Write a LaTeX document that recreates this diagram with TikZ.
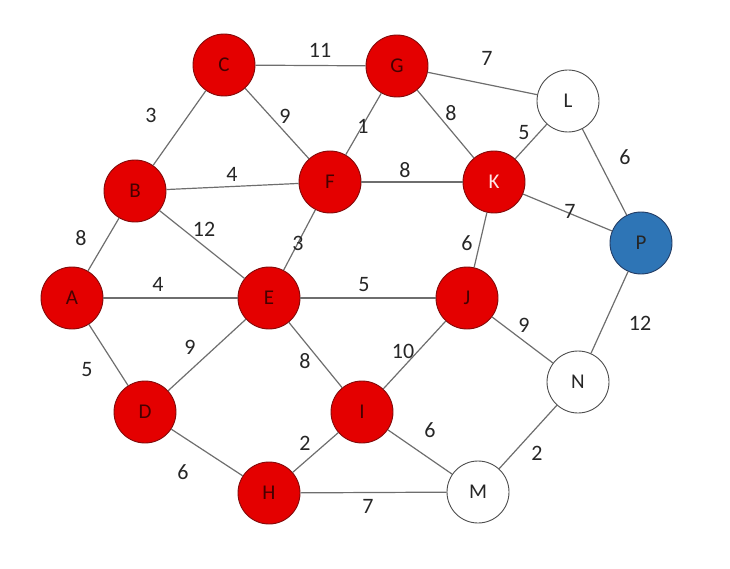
\documentclass[tikz,border=0pt]{standalone}
\usepackage{fontspec}
\setmainfont{Carlito}
\definecolor{nred}{RGB}{228,0,0}
\definecolor{nredborder}{RGB}{130,10,10}
\definecolor{ntext}{RGB}{70,0,0}
\definecolor{nblue}{RGB}{46,117,182}
\definecolor{nblueborder}{RGB}{35,60,100}
\definecolor{edgec}{RGB}{110,110,110}
\begin{document}
\begin{tikzpicture}[x=1pt,y=-1pt,
  vtx/.style={circle,minimum size=62pt,inner sep=0pt,line width=0.9pt,font=\fontsize{21}{21}\selectfont},
  redv/.style={vtx,fill=nred,draw=nredborder,text=ntext},
  whitev/.style={vtx,fill=white,draw=black!70,text=black!85},
  bluev/.style={vtx,fill=nblue,draw=nblueborder,text=black!85},
  edge/.style={draw=edgec,line width=1.2pt},
  wt/.style={font=\fontsize{22}{22}\selectfont,text=black!85,inner sep=0pt}]
\useasboundingbox (0,0) rectangle (730,569);
\node[redv] (C) at (224,65) {C};
\node[redv] (G) at (397,66) {G};
\node[whitev] (L) at (568,101) {L};
\node[redv] (B) at (135,191) {B};
\node[redv] (F) at (330,182) {F};
\node[redv,text=white!90!red] (K) at (494,182) {K};
\node[bluev] (P) at (641,243) {P};
\node[redv] (A) at (72,298) {A};
\node[redv] (E) at (269,298) {E};
\node[redv] (J) at (467,298) {J};
\node[whitev] (N) at (578,382) {N};
\node[redv] (D) at (145,412) {D};
\node[redv] (I) at (362,412) {I};
\node[redv] (H) at (269,493) {H};
\node[whitev] (M) at (478,492) {M};
\path[edge] (C) -- (G);
\path[edge] (G) -- (L);
\path[edge] (B) -- (C);
\path[edge] (C) -- (F);
\path[edge] (F) -- (G);
\path[edge] (G) -- (K);
\path[edge] (K) -- (L);
\path[edge] (L) -- (P);
\path[edge] (B) -- (F);
\path[edge] (F) -- (K);
\path[edge] (K) -- (P);
\path[edge] (A) -- (B);
\path[edge] (B) -- (E);
\path[edge] (E) -- (F);
\path[edge] (K) -- (J);
\path[edge] (A) -- (E);
\path[edge] (E) -- (J);
\path[edge] (J) -- (N);
\path[edge] (P) -- (N);
\path[edge] (A) -- (D);
\path[edge] (D) -- (E);
\path[edge] (E) -- (I);
\path[edge] (I) -- (J);
\path[edge] (I) -- (M);
\path[edge] (N) -- (M);
\path[edge] (H) -- (I);
\path[edge] (D) -- (H);
\path[edge] (H) -- (M);
\node[wt] (w1) at (320,50) {11};
\node[wt] (w2) at (487,58) {7};
\node[wt] (w3) at (151,115) {3};
\node[wt] (w4) at (285,116) {9};
\node[wt] (w5) at (363,126) {1};
\node[wt] (w6) at (451,113) {8};
\node[wt] (w7) at (524,133) {5};
\node[wt] (w8) at (625,157) {6};
\node[wt] (w9) at (232,174) {4};
\node[wt] (w10) at (405,170) {8};
\node[wt] (w11) at (570,211) {7};
\node[wt] (w12) at (81,238) {8};
\node[wt] (w13) at (204,229) {12};
\node[wt] (w14) at (298,243) {3};
\node[wt] (w15) at (467,243) {6};
\node[wt] (w16) at (158,284) {4};
\node[wt] (w17) at (364,285) {5};
\node[wt] (w18) at (524,325) {9};
\node[wt] (w19) at (640,323) {12};
\node[wt] (w20) at (87,370) {5};
\node[wt] (w21) at (190,347) {9};
\node[wt] (w22) at (305,361) {8};
\node[wt] (w23) at (403,351) {10};
\node[wt] (w24) at (430,430) {6};
\node[wt] (w25) at (537,453) {2};
\node[wt] (w26) at (305,443) {2};
\node[wt] (w27) at (183,472) {6};
\node[wt] (w28) at (368,506) {7};
\end{tikzpicture}
\end{document}
